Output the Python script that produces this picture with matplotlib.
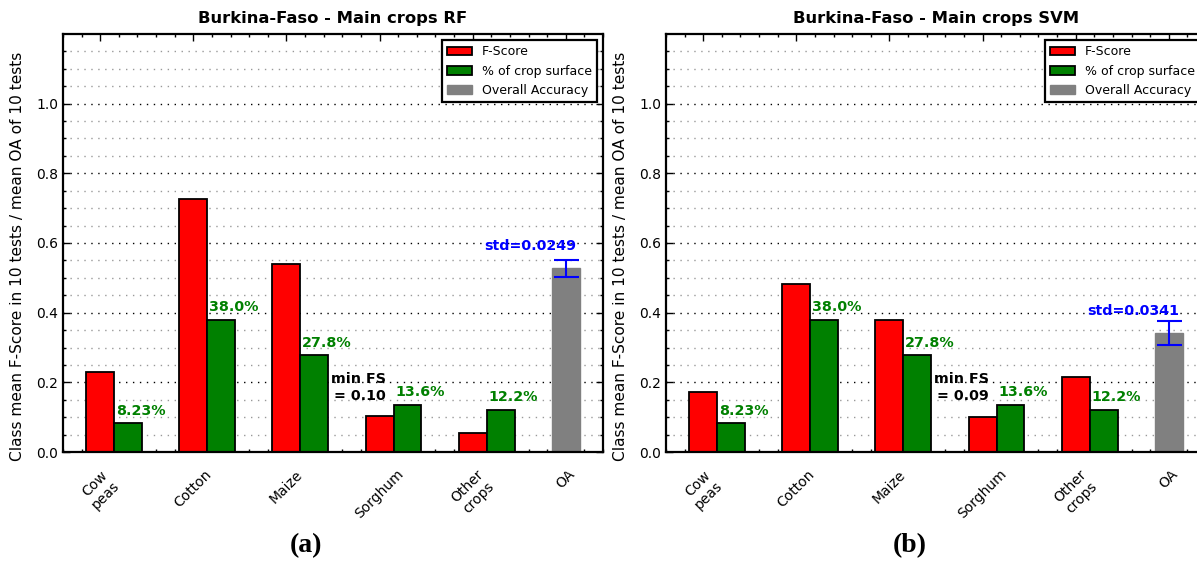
import numpy as np
import matplotlib
matplotlib.use("Agg")
import matplotlib.pyplot as plt
from matplotlib.patches import Patch
from matplotlib.ticker import MultipleLocator, FixedLocator

# Dados
classes = ['Cow\npeas', 'Cotton', 'Maize', 'Sorghum', 'Other\ncrops']
tick_labels = classes + ['OA']
surface_pct = [8.23, 38.0, 27.8, 13.6, 12.2]

rf_fscore = [0.231, 0.727, 0.541, 0.103, 0.055]
rf_oa = 0.527
rf_std = 0.0249
rf_min_fs = 0.10

svm_fscore = [0.173, 0.483, 0.378, 0.100, 0.214]
svm_oa = 0.341
svm_std = 0.0341
svm_min_fs = 0.09

plt.rcParams['font.family'] = 'DejaVu Sans'

fig = plt.figure(figsize=(11.97, 5.61), dpi=100)


def draw_panel(ax, fscore, oa, std, min_fs, title):
    x = np.arange(len(classes))
    surface = np.array(surface_pct) / 100.0
    w = 0.3

    ax.bar(x, fscore, w, color='red', edgecolor='black', linewidth=1.3, zorder=2)
    ax.bar(x + w, surface, w, color='green', edgecolor='black', linewidth=1.3, zorder=2)
    ax.bar([len(classes)], [oa], w, color='gray', edgecolor='gray', linewidth=1.0, zorder=2)
    ax.errorbar([len(classes)], [oa], yerr=[std], color='blue', capsize=9,
                elinewidth=1.5, capthick=1.5, fmt='none', zorder=3)

    # rótulos de % da superfície
    for xi, s in zip(x, surface_pct):
        ax.text(xi + 0.17, s / 100.0 + 0.036, f"{s:#.3g}%", color='green', fontsize=10.3,
                fontweight='bold', ha='left', va='center', zorder=4)
    ax.text(len(classes) - 0.38, oa + 0.064, f"std={std:.4f}", color='blue', fontsize=10.3,
            fontweight='bold', ha='center', va='center', zorder=4)
    ax.text(3.07, 0.185, f"min FS\n= {min_fs:.2f}", color='black', fontsize=10.3,
            fontweight='bold', ha='right', va='center', multialignment='right', zorder=4)

    ax.set_xlim(-0.4, 5.4)
    ax.set_ylim(0, 1.2)
    ax.set_xticks(np.arange(len(tick_labels)))
    ax.set_xticklabels(tick_labels, rotation=45, ha='center', fontsize=10)
    ax.xaxis.set_minor_locator(MultipleLocator(0.2))
    ax.set_yticks(np.arange(0, 1.01, 0.2))
    ax.yaxis.set_minor_locator(FixedLocator(np.arange(0.05, 1.16, 0.05)))
    ax.tick_params(axis='both', which='both', direction='in', top=True, right=True)
    ax.tick_params(axis='both', which='major', length=5, width=1, labelsize=10)
    ax.tick_params(axis='both', which='minor', length=2.5, width=1)
    ax.tick_params(axis='x', which='major', pad=11)

    ax.yaxis.grid(True, which='major', color='black', linestyle=(0, (1, 4)), linewidth=1.0)
    ax.yaxis.grid(True, which='minor', color='#999999', linestyle=(0, (1, 4)), linewidth=1.0)
    ax.set_axisbelow(True)
    for sp in ax.spines.values():
        sp.set_linewidth(1.6)

    ax.set_ylabel('Class mean F-Score in 10 tests / mean OA of 10 tests', fontsize=11.1)
    ax.yaxis.set_label_coords(-0.070, 0.469)
    ax.set_title(title, fontsize=11.8, fontweight='bold', pad=8)

    handles = [Patch(facecolor='red', edgecolor='black', linewidth=1.3),
               Patch(facecolor='green', edgecolor='black', linewidth=1.3),
               Patch(facecolor='gray', edgecolor='gray')]
    leg = ax.legend(handles, ['F-Score', '% of crop surface', 'Overall Accuracy'],
                    loc='upper right', fontsize=9, fancybox=False, framealpha=1,
                    edgecolor='black')
    leg.get_frame().set_linewidth(1.6)


ax1 = fig.add_axes([63 / 1197, 109 / 561, 540 / 1197, 418 / 561])
draw_panel(ax1, rf_fscore, rf_oa, rf_std, rf_min_fs, 'Burkina-Faso - Main crops RF')

ax2 = fig.add_axes([666 / 1197, 109 / 561, 540 / 1197, 418 / 561])
draw_panel(ax2, svm_fscore, svm_oa, svm_std, svm_min_fs, 'Burkina-Faso - Main crops SVM')

# legendas das subfiguras
fig.text(306 / 1197, 1 - 546 / 561, '(a)', fontsize=20, fontweight='bold',
         family='Liberation Serif', ha='center', va='center')
fig.text(910 / 1197, 1 - 546 / 561, '(b)', fontsize=20, fontweight='bold',
         family='Liberation Serif', ha='center', va='center')

fig.savefig('out.png', dpi=100)
